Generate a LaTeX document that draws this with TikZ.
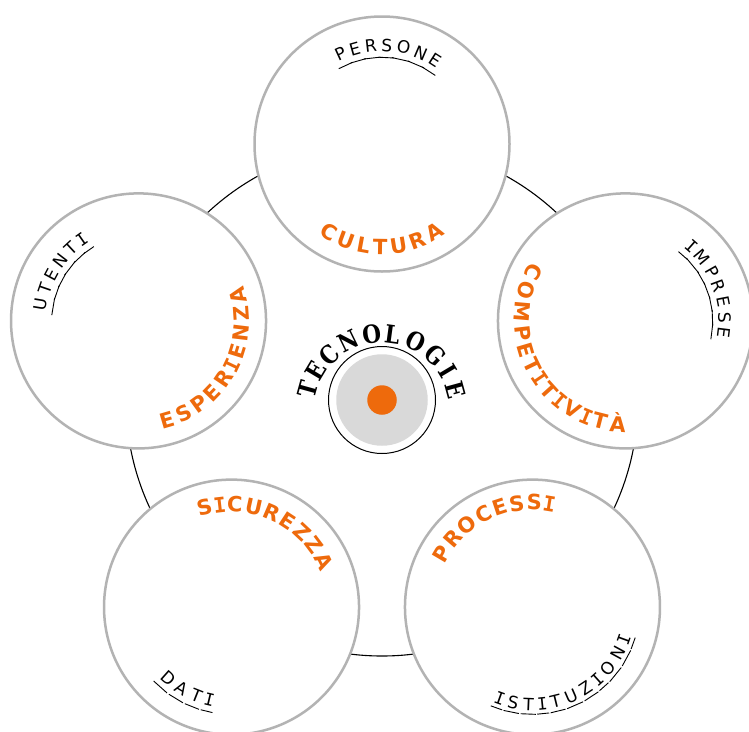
\documentclass[tikz,border=0pt]{standalone}
\usepackage{fontspec}
\usepackage{graphicx}
\newfontfamily\sansfam{DejaVu Sans}
\newfontfamily\monofam{DejaVu Sans Mono}
\newfontfamily\seriffam{DejaVu Serif}
\newcommand\orangefont{\sansfam\bfseries\fontsize{21}{21}\selectfont}
\newcommand\blackfont{\sansfam\fontsize{17}{17}\selectfont}
\newcommand\orangesize{21}
\newcommand\blacksize{17}
\newcommand\mI{{\monofam I}}
\usetikzlibrary{calc}
\definecolor{accent}{HTML}{EE6A0C}
\definecolor{ringgray}{HTML}{B3B3B3}
\definecolor{hubgray}{HTML}{D9D9D9}
% #1 prefix, #2 centre, #3 radius of letter centres, #4 mid angle, #5 sense (+1 ccw, -1 cw),
% #6 letter spacing, #7 kind (orange/black), #8 letter/width(em) list, #9 underline radius (0 = none)
\newcommand\arcword[9]{%
  \gdef\awtot{0}%
  \foreach \ch/\w in {#8} {%
    \pgfmathsetmacro\awt{\awtot+\w*\csname #7size\endcsname+#6}%
    \xdef\awtot{\awt}%
  }%
  \pgfmathsetmacro\awp{-(\awtot-#6)/2}\xdef\awpos{\awp}%
  \foreach \ch/\w [count=\i] in {#8} {%
    \pgfmathsetmacro\aww{\w*\csname #7size\endcsname}%
    \pgfmathsetmacro\awang{#4+#5*(\awpos+\aww/2)/(#3)*180/pi}%
    \pgfmathsetmacro\awrot{\awang+90*#5}%
    \node[#7let, rotate=\awrot] (#1-\i) at ($(#2)+(\awang:#3)$) {\ch};
    \ifdim #9pt>0pt
      \pgfmathsetmacro\awh{(\aww+#6)/2}%
      \pgfmathsetmacro\awa{\awang+90}%
      \pgfmathsetmacro\awb{\awang-90}%
      \draw[rulepart] ($(#2)+(\awang:#9)+(\awa:\awh)$) -- ($(#2)+(\awang:#9)+(\awb:\awh)$);
    \fi
    \pgfmathsetmacro\awp{\awpos+\aww+#6}\xdef\awpos{\awp}%
  }%
}
\tikzset{
  bubble/.style={circle, draw=ringgray, line width=2.5pt, fill=white, minimum size=255pt, inner sep=0pt},
  orbit/.style={circle, draw=black, line width=1.1pt, minimum size=512pt, inner sep=0pt},
  orangelet/.style={font=\orangefont, text=accent, inner sep=0pt, text height=15.3pt, text depth=0pt},
  blacklet/.style={font=\blackfont, text=black, inner sep=0pt, text height=12.4pt, text depth=0pt},
  titlelet/.style={font=\seriffam\bfseries\fontsize{25}{25}\selectfont, text=black, inner sep=0pt, text height=18.2pt, text depth=0pt},
  rulepart/.style={draw=black, line width=0.9pt},
}
\begin{document}
\begin{tikzpicture}[x=1pt, y=1pt]
  \fill[white] (0,0) rectangle (749,-731);
  \clip (0,0) rectangle (749,-731);
  \useasboundingbox (0,0) rectangle (749,-731);
  \coordinate (hub) at (382,-400);
  \node[orbit] (ring) at (hub) {};
  \node[bubble] (ctop) at ($(hub)+(90:256)$) {};
  \node[bubble] (cright) at ($(hub)+(18:256)$) {};
  \node[bubble] (cbr) at ($(hub)+(-54:256)$) {};
  \node[bubble] (cbl) at ($(hub)+(-126:256)$) {};
  \node[bubble] (cleft) at ($(hub)+(162:256)$) {};
  % centre
  \node[circle, draw=black, line width=1pt, minimum size=107pt, inner sep=0pt] (hubring) at (hub) {};
  \node[circle, fill=hubgray, minimum size=91.5pt, inner sep=0pt] (hubdisc) at (hub) {};
  \node[circle, fill=accent, minimum size=29.5pt, inner sep=0pt] (hubdot) at (hub) {};
  \coordinate (tecc) at (382,-410);
  \foreach \ch/\a [count=\i] in {T/164.6, E/149.1, C/133.85, N/116.05, O/97.75, L/82.25, O/63.95, G/46.15, I/30.9, E/15.4} {
    \pgfmathsetmacro\tr{\a-90}
    \node[titlelet, rotate=\tr] (tec-\i) at ($(tecc)+(\a:76.5)$) {\scalebox{0.86}[1]{\ch}};
  }
  % orange words
  \arcword{cul}{ctop}{102.5}{270}{1}{2.8}{orange}{C/.734,U/.812,L/.637,T/.682,U/.812,R/.770,A/.774}{0}
  \arcword{com}{cright}{103.5}{209}{1}{2.8}{orange}{C/.734,O/.850,M/.995,P/.733,E/.683,T/.682,\mI/.45,T/.682,\mI/.45,V/.774,\mI/.45,T/.682,À/.774}{0}
  \arcword{esp}{cleft}{103}{330.5}{1}{2.8}{orange}{E/.683,S/.720,P/.733,E/.683,R/.770,\mI/.45,E/.683,N/.837,Z/.725,A/.774}{0}
  \arcword{sic}{cbl}{103}{65.6}{-1}{2.8}{orange}{S/.720,\mI/.45,C/.734,U/.812,R/.770,E/.683,Z/.725,Z/.725,A/.774}{0}
  \arcword{pro}{cbr}{105}{115.9}{-1}{2.8}{orange}{P/.733,R/.770,O/.850,C/.734,E/.683,S/.720,S/.720,\mI/.45}{0}
  % black words with their rules
  \arcword{per}{ctop}{99}{86}{-1}{4.9}{black}{P/.603,E/.632,R/.695,S/.635,O/.787,N/.748,E/.632}{86.5}
  \arcword{imp}{cright}{99.5}{20.3}{-1}{4.9}{black}{\mI/.42,M/.863,P/.603,R/.695,E/.632,S/.635,E/.632}{87}
  \arcword{ute}{cleft}{99}{148.5}{-1}{4.9}{black}{U/.732,T/.611,E/.632,N/.748,T/.611,\mI/.42}{86.5}
  \arcword{dat}{cbl}{95}{241.5}{1}{4.9}{black}{D/.770,A/.684,T/.611,\mI/.42}{107}
  \arcword{ist}{cbr}{97}{295.3}{1}{4.9}{black}{\mI/.42,S/.635,T/.611,\mI/.42,T/.611,U/.732,Z/.685,\mI/.42,O/.787,N/.748,\mI/.42}{107}
\end{tikzpicture}
\end{document}
